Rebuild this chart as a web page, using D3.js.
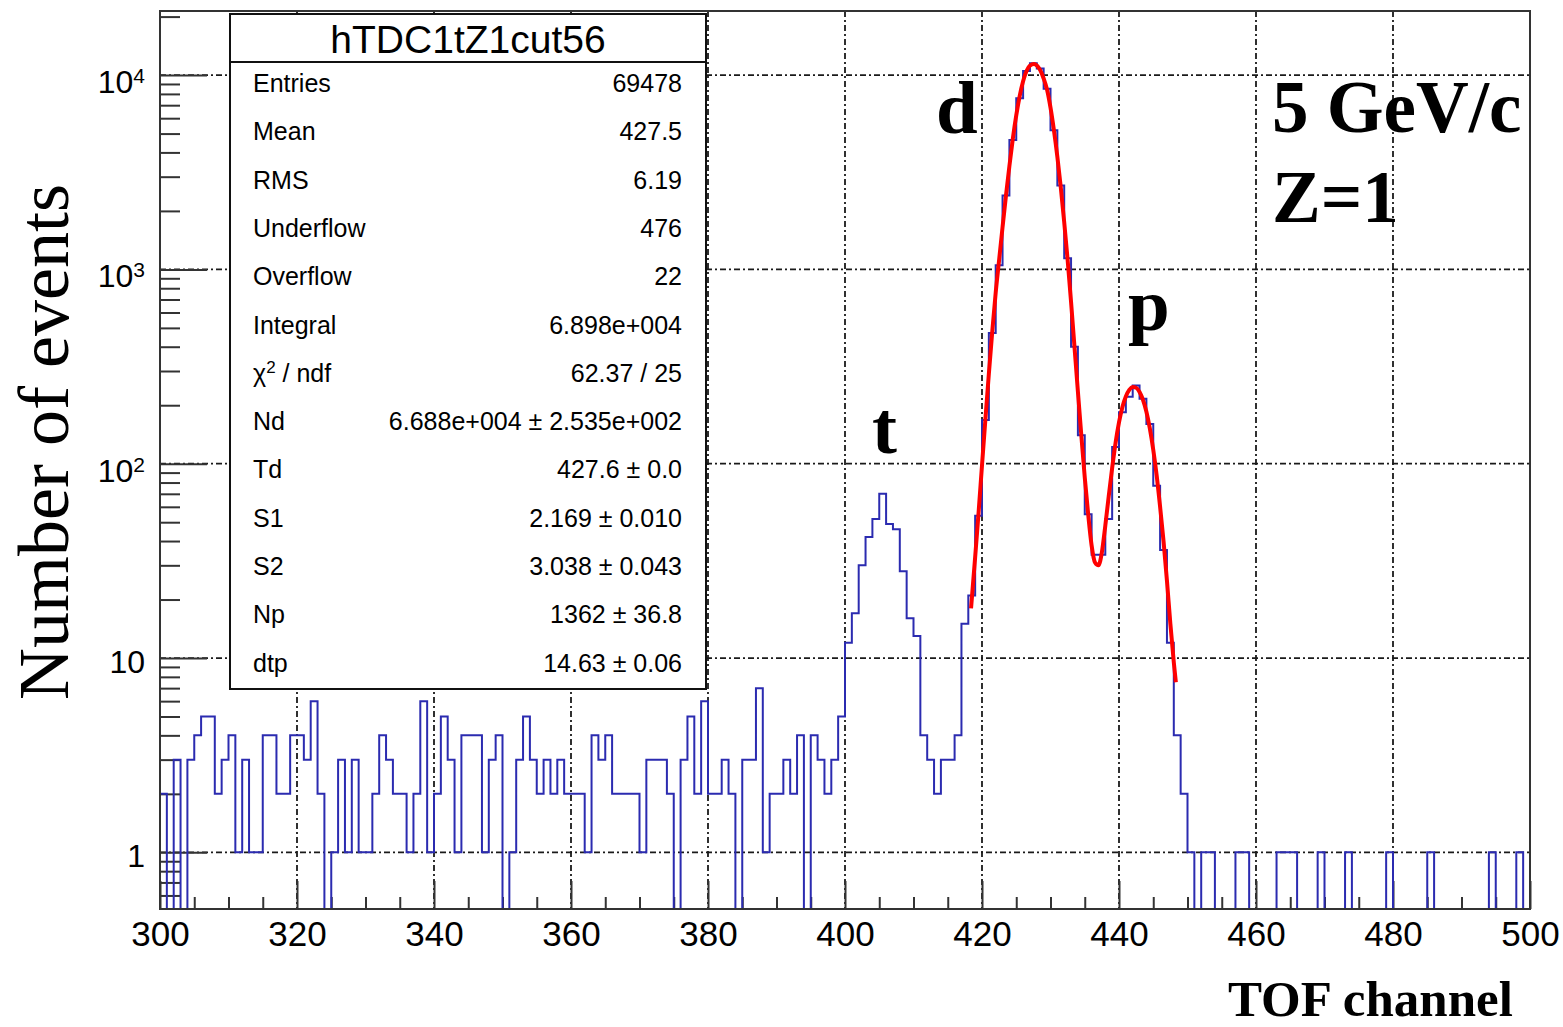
<!DOCTYPE html>
<html>
<head>
<meta charset="utf-8">
<script src="https://cdn.jsdelivr.net/npm/d3@7"></script>
<style>
  body { margin: 0; background: #fff; }
</style>
</head>
<body>
<div id="chart-area"></div>
<script>
// bin contents, one entry per TOF channel 300..499
var counts = [
  2, 0, 3, 0, 3, 4, 5, 5, 2, 3,   4, 1, 3, 1, 1, 4, 4, 2, 2, 4,
  4, 3, 6, 2, 0, 1, 3, 1, 3, 1,   1, 2, 4, 3, 2, 2, 1, 2, 6, 1,
  2, 5, 3, 1, 4, 4, 4, 1, 3, 4,   0, 1, 3, 5, 3, 2, 3, 2, 3, 2,
  2, 2, 1, 4, 3, 4, 2, 2, 2, 2,   1, 3, 3, 3, 2, 0, 3, 5, 2, 6,
  2, 2, 3, 2, 0, 3, 3, 7, 1, 2,   2, 3, 2, 4, 0, 4, 3, 2, 3, 5,
  12, 17, 30, 42, 52, 70, 49, 46, 28, 16,   13, 4, 3, 2, 3, 3, 4, 15, 21, 54,
  168, 470, 1050, 2400, 4640, 7600, 10500, 11500, 10800, 8500,
  5200, 2700, 1140, 400, 140, 55, 34, 34, 52, 122,
  184, 221, 253, 216, 160, 77, 36, 12, 4, 2,   1, 0, 1, 1, 0, 0, 0, 1, 1, 0,
  0, 0, 0, 1, 1, 1, 0, 0, 0, 1,   0, 0, 0, 1, 0, 0, 0, 0, 0, 1,
  0, 0, 0, 0, 0, 1, 0, 0, 0, 0,   0, 0, 0, 0, 1, 0, 0, 0, 1, 0
];
var firstChannel = 300;

// fitted curve
var fitChannel = [418.4, 419, 419.5, 420, 420.5, 421, 421.5, 422, 422.5, 423, 423.5, 424, 424.5,
  425, 425.5, 426, 426.5, 427, 427.6, 428, 428.5, 429, 429.5, 430, 430.5, 431, 431.5,
  432, 432.5, 433, 433.5, 434, 434.5, 435, 435.5, 436, 436.5, 437, 437.5, 438, 438.5,
  439, 439.5, 440, 440.5, 441, 441.5, 442, 442.5, 443, 443.5, 444, 444.5, 445, 445.5,
  446, 446.5, 447, 447.5, 448, 448.3];
var fitValue = [18, 33, 56, 98, 170, 290, 480, 760, 1120, 1650, 2400, 3400, 4700,
  6200, 7800, 9300, 10500, 11200, 11400, 11200, 10600, 9600, 8400, 6800, 5200, 3800, 2650,
  1750, 1120, 680, 400, 235, 140, 85, 55, 38, 31, 30, 35, 48, 68,
  95, 128, 163, 196, 222, 240, 248, 246, 234, 213, 185, 152, 118, 87,
  60, 40, 25, 15, 9.5, 7.5];

var xTickLabels = [300, 320, 340, 360, 380, 400, 420, 440, 460, 480, 500];
var yDecades = [1, 10, 100, 1000, 10000];

var statNames = ["Entries", "Mean", "RMS", "Underflow", "Overflow", "Integral",
  "chi2", "Nd", "Td", "S1", "S2", "Np", "dtp"];
var statValues = ["69478", "427.5", "6.19", "476", "22", "6.898e+004", "62.37 / 25",
  "6.688e+004 \u00b1 2.535e+002", "427.6 \u00b1 0.0", "2.169 \u00b1 0.010",
  "3.038 \u00b1 0.043", "1362 \u00b1 36.8", "14.63 \u00b1 0.06"];

var margin = { left: 160, right: 33, top: 11, bottom: 118 };
var width = 1563 - margin.left - margin.right,
    height = 1027 - margin.top - margin.bottom;

var svg = d3.select("#chart-area")
  .append("svg")
    .attr("width", 1563)
    .attr("height", 1027)
    .style("background", "#fff");

var g = svg.append("g")
    .attr("transform", "translate(" + margin.left + "," + margin.top + ")");

// scales
var xScale = d3.scaleLinear().domain([300, 500]).range([0, width]);
var yScale = d3.scaleLog().domain([0.511, 21370]).range([height, 0]);

function yPos(v) { return v > 0 ? yScale(v) : height; }

// grid
var gridDash = "6,3,2,3";
g.selectAll(".vgrid")
  .data(xTickLabels.filter(function(d) { return d > 300 && d < 500; }))
  .enter().append("line")
    .attr("x1", function(d) { return xScale(d); })
    .attr("x2", function(d) { return xScale(d); })
    .attr("y1", 0).attr("y2", height)
    .attr("stroke", "#1a1a1a").attr("stroke-width", 1.8)
    .attr("stroke-dasharray", gridDash);
g.selectAll(".hgrid")
  .data(yDecades)
  .enter().append("line")
    .attr("x1", 0).attr("x2", width)
    .attr("y1", function(d) { return yScale(d); })
    .attr("y2", function(d) { return yScale(d); })
    .attr("stroke", "#1a1a1a").attr("stroke-width", 1.8)
    .attr("stroke-dasharray", gridDash);

// x axis, ticks pointing inwards
var xTickVals = d3.range(300, 501, 5);
var xAxis = g.append("g")
    .attr("transform", "translate(0," + height + ")")
    .call(d3.axisBottom(xScale)
      .tickValues(xTickVals)
      .tickSize(-12)
      .tickPadding(22)
      .tickFormat(function(d) { return d % 20 === 0 ? d : ""; }));
xAxis.select(".domain").remove();
xAxis.selectAll(".tick line")
    .attr("stroke", "#333").attr("stroke-width", 2)
    .attr("y2", function(d) { return d % 20 === 0 ? -28 : -12; });
xAxis.selectAll(".tick text")
    .attr("fill", "#000")
    .style("font-family", "'Liberation Sans', Arial, sans-serif")
    .style("font-size", "35px")
    .attr("dy", "0.42em");

// y axis, minor ticks 2..9 per decade
var yTickVals = [];
[0.1, 1, 10, 100, 1000, 10000].forEach(function(dec) {
  for (var k = 1; k <= 9; k++) {
    var v = dec * k;
    if (v >= 0.511 && v <= 21370) yTickVals.push(v);
  }
});
var yAxis = g.append("g")
    .call(d3.axisLeft(yScale)
      .tickValues(yTickVals)
      .tickSize(-20)
      .tickFormat(""));
yAxis.select(".domain").remove();
yAxis.selectAll(".tick line")
    .attr("stroke", "#333").attr("stroke-width", 2)
    .attr("x2", function(d) { return yDecades.indexOf(d) >= 0 ? 47 : 20; });

// y tick labels
var yLab = g.selectAll(".ylab")
  .data(yDecades)
  .enter().append("text")
    .attr("x", -15)
    .attr("y", function(d) { return yScale(d) + (d >= 100 ? 18 : 15); })
    .attr("text-anchor", "end")
    .style("font-family", "'Liberation Sans', Arial, sans-serif")
    .style("font-size", "32px")
    .attr("fill", "#000");
yLab.each(function(d) {
  var t = d3.select(this);
  if (d < 100) {
    t.text(d);
  } else {
    t.append("tspan").text("10");
    t.append("tspan").attr("dy", -10).style("font-size", "21px")
      .text(Math.round(Math.log10(d)));
  }
});

// histogram outline
var histPts = [[300, 0]];
counts.forEach(function(c, i) { histPts.push([firstChannel + i, c]); });
histPts.push([500, counts[counts.length - 1]]);
var histLine = d3.line()
    .curve(d3.curveStepAfter)
    .x(function(d) { return xScale(d[0]); })
    .y(function(d) { return yPos(d[1]); });
g.append("path")
    .datum(histPts)
    .attr("d", histLine)
    .attr("fill", "none")
    .attr("stroke", "#2b2bb0")
    .attr("stroke-width", 2);

// fit
var fitPts = fitChannel.map(function(c, i) { return [c, fitValue[i]]; });
var fitLine = d3.line()
    .curve(d3.curveMonotoneX)
    .x(function(d) { return xScale(d[0]); })
    .y(function(d) { return yScale(d[1]); });
g.append("path")
    .datum(fitPts)
    .attr("d", fitLine)
    .attr("fill", "none")
    .attr("stroke", "#ff0000")
    .attr("stroke-width", 4)
    .attr("stroke-linejoin", "round");

// frame
g.append("rect")
    .attr("x", 0).attr("y", 0)
    .attr("width", width).attr("height", height)
    .attr("fill", "none")
    .attr("stroke", "#333").attr("stroke-width", 2);

// stats box
var box = svg.append("g").attr("transform", "translate(230,14)");
box.append("rect")
    .attr("width", 476).attr("height", 675)
    .attr("fill", "#fff").attr("stroke", "#111").attr("stroke-width", 2);
box.append("line")
    .attr("x1", 0).attr("x2", 476).attr("y1", 48).attr("y2", 48)
    .attr("stroke", "#111").attr("stroke-width", 2);
box.append("text")
    .attr("x", 238).attr("y", 39)
    .attr("text-anchor", "middle")
    .style("font-family", "'Liberation Sans', Arial, sans-serif")
    .style("font-size", "39px")
    .text("hTDC1tZ1cut56");
var rows = box.selectAll(".row")
  .data(statNames)
  .enter().append("g")
    .attr("transform", function(d, i) { return "translate(0," + (78 + i * 48.3) + ")"; })
    .style("font-family", "'Liberation Sans', Arial, sans-serif")
    .style("font-size", "25px");
rows.append("text")
    .attr("x", 23)
    .each(function(d) {
      var t = d3.select(this);
      if (d === "chi2") {
        t.append("tspan").text("\u03c7");
        t.append("tspan").attr("dy", -9).style("font-size", "17px").text("2");
        t.append("tspan").attr("dy", 9).text(" / ndf");
      } else {
        t.text(d);
      }
    });
rows.append("text")
    .attr("x", 452)
    .attr("text-anchor", "end")
    .text(function(d, i) { return statValues[i]; });

// annotations
var serif = "'Liberation Serif', 'Times New Roman', serif";
var notes = [
  { t: "d", x: 936, y: 133, s: 75 },
  { t: "p", x: 1128, y: 330, s: 75 },
  { t: "t", x: 872, y: 453, s: 75 },
  { t: "5 GeV/c", x: 1272, y: 132, s: 73 },
  { t: "Z=1", x: 1272, y: 222, s: 73 }
];
svg.selectAll(".note")
  .data(notes)
  .enter().append("text")
    .attr("x", function(d) { return d.x; })
    .attr("y", function(d) { return d.y; })
    .style("font-family", serif)
    .style("font-weight", "bold")
    .style("font-size", function(d) { return d.s + "px"; })
    .text(function(d) { return d.t; });

// axis titles
svg.append("text")
    .attr("x", 1228).attr("y", 1016)
    .style("font-family", serif)
    .style("font-weight", "bold")
    .style("font-size", "51px")
    .text("TOF channel");
svg.append("text")
    .attr("transform", "translate(68,442) rotate(-90)")
    .attr("text-anchor", "middle")
    .style("font-family", serif)
    .style("font-size", "72px")
    .text("Number of events");
</script>
</body>
</html>
